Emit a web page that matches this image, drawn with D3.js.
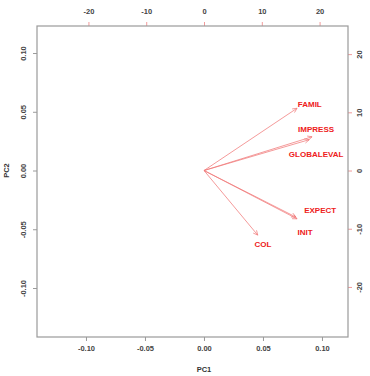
<!DOCTYPE html>
<html>
<head>
<meta charset="utf-8">
<script src="https://cdn.jsdelivr.net/npm/d3@7"></script>
<style>
  body { margin: 0; background: #fff; }
  text { font-family: "Liberation Sans", Arial, sans-serif; }
</style>
</head>
<body>
<svg id="chart"></svg>
<script>
// variables and their loadings (top/right axis units)
const vars = ["FAMIL", "IMPRESS", "GLOBALEVAL", "EXPECT", "INIT", "COL"];
const arrowX = [16.1, 18.7, 18.2, 16.1, 15.9, 9.3];
const arrowY = [10.7, 5.8, 5.3, -8.3, -8.0, -11.1];
const labelX = [18.3, 19.4, 19.4, 20.1, 17.5, 10.2];
const labelY = [11.4, 7.1, 2.8, -6.8, -10.6, -12.6];

const pcTicks = [-0.10, -0.05, 0.00, 0.05, 0.10];
const loadTicks = [-20, -10, 0, 10, 20];

const width = 370, height = 376;
const box = { left: 37, right: 349, top: 26, bottom: 337 };

const svg = d3.select("#chart").attr("width", width).attr("height", height);

// scales
const x = d3.scaleLinear().domain([-0.1415, 0.1229]).range([box.left, box.right]);
const y = d3.scaleLinear().domain([-0.1417, 0.1230]).range([box.bottom, box.top]);
const x2 = d3.scaleLinear().domain([-28.9, 25.09]).range([box.left, box.right]);
const y2 = d3.scaleLinear().domain([-28.6, 24.83]).range([box.bottom, box.top]);

const gray = "#9a9a9a", pink = "#f29a9a";

function styleAxis(g, color) {
  g.select(".domain").remove();
  g.selectAll(".tick line").attr("stroke", color);
  g.selectAll(".tick text").attr("fill", "#444")
    .style("font-size", "7.5px").style("font-weight", "bold");
}

// bottom axis
svg.append("g")
  .attr("transform", `translate(0,${box.bottom})`)
  .call(d3.axisBottom(x).tickValues(pcTicks).tickSize(4).tickFormat(d => d.toFixed(2)))
  .call(g => styleAxis(g, gray))
  .call(g => g.selectAll(".tick text").attr("y", 12).attr("dy", "0.32em"));

// left axis
svg.append("g")
  .attr("transform", `translate(${box.left},0)`)
  .call(d3.axisLeft(y).tickValues(pcTicks).tickSize(4).tickFormat(d => d.toFixed(2)))
  .call(g => styleAxis(g, gray))
  .call(g => g.selectAll(".tick text")
    .attr("x", null).attr("dy", null)
    .attr("text-anchor", "middle")
    .attr("transform", "translate(-11,0) rotate(-90)"));

// top axis
svg.append("g")
  .attr("transform", `translate(0,${box.top})`)
  .call(d3.axisTop(x2).tickValues(loadTicks).tickSize(4).tickFormat(d => d))
  .call(g => styleAxis(g, pink))
  .call(g => g.selectAll(".tick text").attr("y", -14).attr("dy", "0.32em"));

// right axis
svg.append("g")
  .attr("transform", `translate(${box.right - 1},0)`)
  .call(d3.axisRight(y2).tickValues(loadTicks).tickSize(4).tickFormat(d => d))
  .call(g => styleAxis(g, pink))
  .call(g => g.selectAll(".tick text")
    .attr("x", null).attr("dy", null)
    .attr("text-anchor", "middle")
    .attr("transform", "translate(14,0) rotate(-90)"));

// plot box
svg.append("rect")
  .attr("x", box.left).attr("y", box.top)
  .attr("width", box.right - box.left - 1).attr("height", box.bottom - box.top)
  .attr("fill", "none").attr("stroke", gray).attr("stroke-width", 1.2);

// axis titles
svg.append("text").attr("x", x(0)).attr("y", 372).attr("text-anchor", "middle")
  .attr("fill", "#333").style("font-size", "7.5px").style("font-weight", "bold").text("PC1");
svg.append("text").attr("transform", `translate(9,${y(0)}) rotate(-90)`).attr("text-anchor", "middle")
  .attr("fill", "#333").style("font-size", "7.5px").style("font-weight", "bold").text("PC2");

// arrows
const data = vars.map((v, i) => ({ name: v, ax: arrowX[i], ay: arrowY[i], lx: labelX[i], ly: labelY[i] }));
const g = svg.append("g");
const ox = x2(0), oy = y2(0);

g.selectAll("line.arrow")
  .data(data)
  .join("line")
  .attr("class", "arrow")
  .attr("x1", ox).attr("y1", oy)
  .attr("x2", d => x2(d.ax)).attr("y2", d => y2(d.ay))
  .attr("stroke", "#f07878").attr("stroke-opacity", 0.75).attr("stroke-width", 1);

// arrow heads (open V)
g.selectAll("path.head")
  .data(data)
  .join("path")
  .attr("class", "head")
  .attr("d", d => {
    const tx = x2(d.ax), ty = y2(d.ay);
    const ang = Math.atan2(ty - oy, tx - ox);
    const len = 5, spread = Math.PI / 7;
    const p1 = [tx - len * Math.cos(ang - spread), ty - len * Math.sin(ang - spread)];
    const p2 = [tx - len * Math.cos(ang + spread), ty - len * Math.sin(ang + spread)];
    return `M${p1[0]},${p1[1]}L${tx},${ty}L${p2[0]},${p2[1]}`;
  })
  .attr("fill", "none").attr("stroke", "#f07878").attr("stroke-opacity", 0.75).attr("stroke-width", 1);

// labels
g.selectAll("text.lab")
  .data(data)
  .join("text")
  .attr("class", "lab")
  .attr("x", d => x2(d.lx)).attr("y", d => y2(d.ly))
  .attr("dy", "0.35em")
  .attr("text-anchor", "middle")
  .attr("fill", "#ee2020")
  .style("font-size", "8px").style("font-weight", "bold")
  .text(d => d.name);
</script>
</body>
</html>
